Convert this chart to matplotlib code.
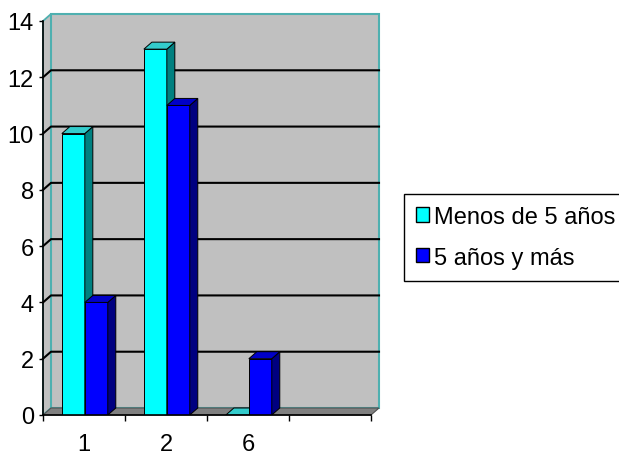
import matplotlib
matplotlib.use("Agg")
import matplotlib.pyplot as plt
from matplotlib.patches import Polygon, Rectangle, Patch

plt.rcParams['font.family'] = ['Liberation Sans', 'DejaVu Sans']

# data
categories = ['1', '2', '6', '']
series_names = ['Menos de 5 años', '5 años y más']
menos = [10, 13, 0]
mas = [4, 11, 2]
yticks = [0, 2, 4, 6, 8, 10, 12, 14]

# colours (front, side, top)
cyan = ('#00FFFF', '#008080', '#33CCCC')
blue = ('#0000FF', '#000080', '#0000C8')
wall = '#C0C0C0'
floor = '#808080'
border = '#4FB0B0'

fig = plt.figure(figsize=(6.19, 4.56), dpi=100)
ax = fig.add_axes([43 / 619, 40 / 456, 328 / 619, 394 / 456])
ncat = len(categories)
ymax = yticks[-1]
ax.set_xlim(0, ncat)
ax.set_ylim(0, ymax)

# 3d depth offset in data units (about 8 px right, 7 px up)
dx = 8 / 82
dy = 7 * ymax / 394

# walls and floor
left_wall = Polygon([(0, 0), (dx, dy), (dx, ymax + dy), (0, ymax)],
                    facecolor=wall, edgecolor=border, lw=1.3, zorder=1, clip_on=False)
back_wall = Rectangle((dx, dy), ncat, ymax, facecolor=wall, edgecolor=border,
                      lw=1.5, zorder=1, clip_on=False)
floor_poly = Polygon([(0, 0), (ncat, 0), (ncat + dx, dy), (dx, dy)],
                     facecolor=floor, edgecolor='#505050', lw=0.8, zorder=1.2, clip_on=False)
ax.add_patch(left_wall)
ax.add_patch(back_wall)
ax.add_patch(floor_poly)

# gridlines on the walls
for v in yticks[1:-1]:
    ax.plot([0, dx, ncat + dx], [v, v + dy, v + dy], color='black', lw=1.5,
            zorder=1.5, clip_on=False)


def draw_bars(xs, vals, cols, z):
    rects = ax.bar(xs, vals, width=0.28, color=cols[0], edgecolor='black',
                   lw=0.7, zorder=z)
    for r in rects:
        x0 = r.get_x()
        x1 = x0 + r.get_width()
        h = r.get_height()
        side = Polygon([(x1, 0), (x1 + dx, dy), (x1 + dx, h + dy), (x1, h)],
                       facecolor=cols[1], edgecolor='black', lw=0.7, zorder=z)
        top = Polygon([(x0, h), (x1, h), (x1 + dx, h + dy), (x0 + dx, h + dy)],
                      facecolor=cols[2], edgecolor='black', lw=0.7, zorder=z)
        ax.add_patch(side)
        ax.add_patch(top)


draw_bars([i + 0.37 for i in range(len(menos))], menos, cyan, 3)
draw_bars([i + 0.65 for i in range(len(mas))], mas, blue, 4)

# axes
for s in ['top', 'right']:
    ax.spines[s].set_visible(False)
for s in ['left', 'bottom']:
    ax.spines[s].set_color('black')
    ax.spines[s].set_linewidth(1.2)
    ax.spines[s].set_zorder(5)

ax.set_yticks(yticks)
ax.tick_params(axis='y', length=3, width=1, pad=3.5, labelsize=17)
ax.set_xticks(range(ncat + 1))
ax.set_xticklabels([''] * (ncat + 1))
ax.tick_params(axis='x', which='major', length=4, width=1)
ax.set_xticks([i + 0.5 for i in range(ncat)], minor=True)
ax.set_xticklabels(categories, minor=True)
ax.tick_params(axis='x', which='minor', length=0, pad=13, labelsize=17)

handles = [Patch(facecolor=cyan[0], edgecolor='black'),
           Patch(facecolor=blue[0], edgecolor='black')]
leg = fig.legend(handles, series_names, loc='upper left',
                 bbox_to_anchor=(404 / 619, 1 - 195 / 456), fontsize=17,
                 frameon=True, fancybox=False, framealpha=1, edgecolor='black',
                 handlelength=0.55, handleheight=0.55, handletextpad=0.2,
                 borderpad=0.5, labelspacing=0.8, borderaxespad=0)
leg.get_frame().set_linewidth(1.0)

fig.savefig('out.png', dpi=100)
